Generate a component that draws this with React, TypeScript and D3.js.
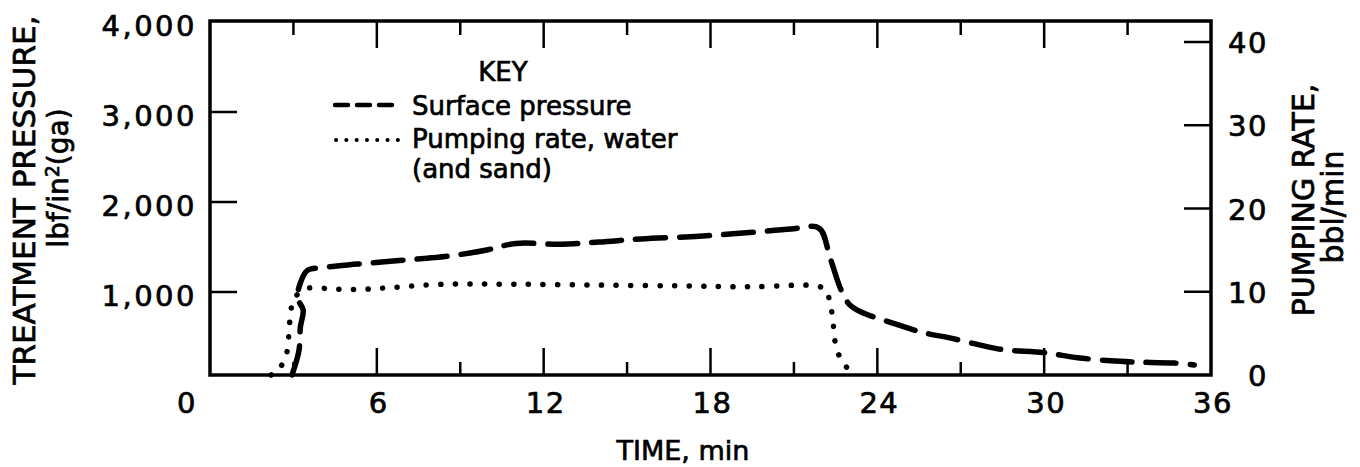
import React from "react";
import * as d3 from "d3";

// ---- data ----
// Surface pressure, lbf/in2 (left axis) vs time, min
const pressureTime = [2.95, 3.2, 3.25, 3.35, 3.15, 3.25, 3.5, 4.0, 5.3, 6.8, 8.6, 10.0, 11.0, 12.6, 14.0, 15.5, 17.6, 19.4, 20.9, 21.9, 22.3, 22.7, 23.0, 23.4, 24.5, 25.7, 26.6, 27.7, 28.5, 30.0, 31.2, 32.4, 33.2, 34.7, 35.4];
const pressureValue = [80, 350, 610, 800, 930, 1100, 1240, 1270, 1310, 1350, 1400, 1470, 1540, 1530, 1555, 1590, 1620, 1660, 1700, 1710, 1380, 1020, 860, 780, 660, 545, 490, 410, 360, 325, 270, 235, 222, 210, 190];

// Pumping rate, bbl/min (right axis) vs time, min
const rateTime = [2.2, 2.5, 2.75, 2.85, 2.9, 3.05, 3.5, 4.5, 5.5, 6.5, 8.4, 11, 14, 17, 19.5, 21.8, 22.15, 22.3, 22.4, 22.45, 22.55, 22.8, 23.05];
const rateValue = [0, 0.8, 2.5, 5.5, 7.6, 9.3, 10.4, 10.3, 10.3, 10.5, 10.9, 10.9, 10.8, 10.7, 10.6, 10.7, 10.2, 8.6, 6.7, 4.8, 2.9, 1.4, 0.2];

const timeTicks = [3, 6, 9, 12, 15, 18, 21, 24, 27, 30, 33];
const timeLabels = [0, 6, 12, 18, 24, 30, 36];
const pressureTicks = [1000, 2000, 3000, 4000];
const pressureLabels = ["1,000", "2,000", "3,000", "4,000"];
const rateTicks = [10, 20, 30, 40];
const rateLabels = [0, 10, 20, 30, 40];

const FONT = "'DejaVu Sans', sans-serif";

export default function App() {
  const x = d3.scaleLinear().domain([0, 36]).range([210, 1211]);
  const yL = d3.scaleLinear().domain([0, 4000]).range([382, 22]);
  const yR = d3.scaleLinear().domain([0, 40]).range([375, 42]);

  const left = x(0);
  const right = x(36);
  const top = yL(4000) - 1;
  const bottom = yR(0);

  const pLine = d3
    .line<number>()
    .x((_, i) => x(pressureTime[i]))
    .y((v) => yL(v))
    .curve(d3.curveCatmullRom.alpha(0.5));
  const rLine = d3
    .line<number>()
    .x((_, i) => x(rateTime[i]))
    .y((v) => yR(v))
    .curve(d3.curveCatmullRom.alpha(0.5));

  const txt = { fontFamily: FONT, fill: "#000", stroke: "#000", strokeWidth: 0.7 } as const;

  return (
    <svg
      width={1360}
      height={467}
      style={{ position: "absolute", left: 0, top: 0, background: "#fff" }}
    >
      <rect x={0} y={0} width={1360} height={467} fill="#fff" />
      {/* plot frame */}
      <rect
        x={left}
        y={top}
        width={right - left}
        height={bottom - top}
        fill="none"
        stroke="#000"
        strokeWidth={3.5}
      />
      {/* time ticks top and bottom */}
      {timeTicks.map((t) => {
        const long = t % 6 === 0;
        return (
          <g key={"t" + t} stroke="#000" strokeWidth={2.5}>
            <line x1={x(t)} x2={x(t)} y1={top} y2={top + (long ? 27 : 14)} />
            <line x1={x(t)} x2={x(t)} y1={bottom} y2={bottom - (long ? 27 : 13)} />
          </g>
        );
      })}
      {/* pressure ticks left */}
      {pressureTicks.slice(0, 3).map((p) => (
        <line key={"p" + p} x1={left} x2={left + 27} y1={yL(p)} y2={yL(p)} stroke="#000" strokeWidth={2.5} />
      ))}
      {/* rate ticks right */}
      {rateTicks.map((r) => (
        <line key={"r" + r} x1={right - 27} x2={right} y1={yR(r)} y2={yR(r)} stroke="#000" strokeWidth={2.5} />
      ))}

      {/* tick labels */}
      {pressureTicks.map((p, i) => (
        <text key={"pl" + p} x={197} y={yL(p) + 14} textAnchor="end" fontSize={29} letterSpacing={2.5} {...txt}>
          {pressureLabels[i]}
        </text>
      ))}
      {rateLabels.map((r) => (
        <text key={"rl" + r} x={1268} y={yR(r) + 11} textAnchor="end" fontSize={29} letterSpacing={1.5} {...txt}>
          {r}
        </text>
      ))}
      {timeLabels.map((t) => (
        <text
          key={"tl" + t}
          x={t === 0 ? x(0) - 23 : x(t) + 2}
          y={413}
          textAnchor="middle"
          fontSize={29}
          letterSpacing={1.5}
          {...txt}
        >
          {t}
        </text>
      ))}

      {/* axis titles */}
      <text x={683} y={460} textAnchor="middle" fontSize={27} {...txt}>
        TIME, min
      </text>
      <text transform="translate(35,200) rotate(-90)" textAnchor="middle" fontSize={31} {...txt}>
        TREATMENT PRESSURE,
      </text>
      <text transform="translate(68,178) rotate(-90)" textAnchor="middle" fontSize={28} {...txt}>
        lbf/in<tspan dy={-9} fontSize={19}>2</tspan>
        <tspan dy={9}>(ga)</tspan>
      </text>
      <text transform="translate(1314,200) rotate(-90)" textAnchor="middle" fontSize={30} {...txt}>
        PUMPING RATE,
      </text>
      <text transform="translate(1343,207) rotate(-90)" textAnchor="middle" fontSize={30} {...txt}>
        bbl/min
      </text>

      {/* data */}
      <path
        d={rLine(rateValue) || ""}
        fill="none"
        stroke="#000"
        strokeWidth={5.5}
        strokeLinecap="round"
        strokeDasharray="0.1 14.5"
      />
      <path
        d={pLine(pressureValue) || ""}
        fill="none"
        stroke="#000"
        strokeWidth={5.5}
        strokeLinecap="round"
        strokeDasharray="30 14"
      />

      {/* key */}
      <text x={503} y={81} textAnchor="middle" fontSize={26} {...txt}>
        KEY
      </text>
      <line x1={335} x2={397} y1={105} y2={105} stroke="#000" strokeWidth={4.5} strokeLinecap="round" strokeDasharray="13 9" />
      <text x={412} y={115} fontSize={26} {...txt}>
        Surface pressure
      </text>
      <line x1={336} x2={398} y1={140} y2={140} stroke="#000" strokeWidth={4} strokeLinecap="round" strokeDasharray="0.1 10.2" />
      <text x={412} y={148} fontSize={26} {...txt}>
        Pumping rate, water
      </text>
      <text x={412} y={178} fontSize={26} {...txt}>
        (and sand)
      </text>
    </svg>
  );
}
